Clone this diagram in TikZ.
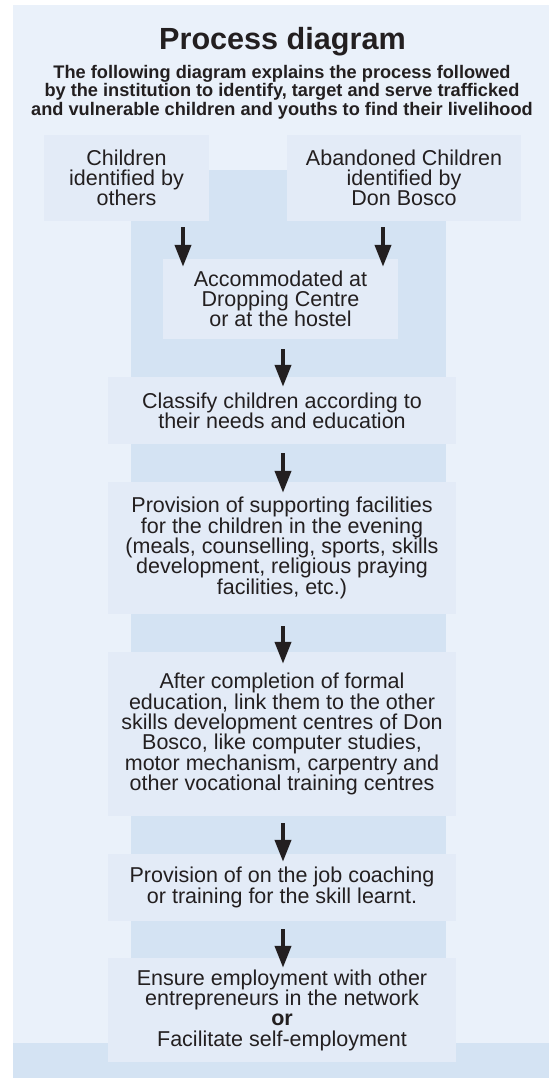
\documentclass[tikz,border=0pt]{standalone}
\usepackage{fontspec}
\setmainfont{Liberation Sans}
\usetikzlibrary{arrows.meta,calc}
\definecolor{bgblue}{HTML}{EAF1FA}
\definecolor{colblue}{HTML}{D4E3F3}
\definecolor{boxblue}{HTML}{E3EBF7}
\definecolor{ink}{HTML}{231F20}
\begin{document}
\begin{tikzpicture}[x=1pt,y=-1pt,
  stepbox/.style={fill=boxblue, inner sep=0pt, align=center, text=ink,
    font=\fontsize{21.5}{20.3}\selectfont},
  flowarrow/.style={draw=ink, line width=4pt, -{Triangle[width=16pt,length=22pt]}}]
\useasboundingbox (0,0) rectangle (549,1078);
\fill[white] (0,0) rectangle (549,1078);
\fill[bgblue] (12.5,5) rectangle (549,1078);
\fill[colblue] (131,170) rectangle (446,1078);
\fill[colblue] (12.5,1043) rectangle (549,1078);

\node[anchor=north, inner sep=0pt, text=ink, font=\bfseries\fontsize{30.6}{32}\selectfont] (title) at (282.5,27) {Process diagram};
\node[anchor=north, inner sep=0pt, text=ink, align=center, font=\bfseries\fontsize{18.2}{18.5}\selectfont] (sub) at (282,65)
  {The following diagram explains the process followed\\by the institution to identify, target and serve trafficked\\and vulnerable children and youths to find their livelihood};

\node[stepbox, minimum width=165pt, minimum height=86pt] (b1) at (126.5,178) {Children\\identified by\\others};
\node[stepbox, minimum width=234pt, minimum height=86pt] (b2) at (404,178) {Abandoned Children\\identified by\\Don Bosco};
\node[stepbox, minimum width=235pt, minimum height=80pt] (b3) at (280.5,299) {Accommodated at\\Dropping Centre\\or at the hostel};
\node[stepbox, minimum width=348pt, minimum height=67pt] (b4) at (282,410.5) {Classify children according to\\their needs and education};
\node[stepbox, minimum width=348pt, minimum height=132pt] (b5) at (282,548) {Provision of supporting facilities\\for the children in the evening\\(meals, counselling, sports, skills\\development, religious praying\\facilities, etc.)};
\node[stepbox, minimum width=348pt, minimum height=164pt] (b6) at (282,734) {After completion of formal\\education, link them to the other\\skills development centres of Don\\Bosco, like computer studies,\\motor mechanism, carpentry and\\other vocational training centres};
\node[stepbox, minimum width=348pt, minimum height=67pt] (b7) at (282,887.5) {Provision of on the job coaching\\or training for the skill learnt.};
\node[stepbox, minimum width=348pt, minimum height=104pt] (b8) at (282,1010) {Ensure employment with other\\entrepreneurs in the network\\\textbf{or}\\Facilitate self-employment};

\draw[flowarrow] ($(b1.south)+(56.5,6)$) -- ($(b3.north)+(-97.5,8)$);
\draw[flowarrow] ($(b2.south)+(-21,6)$) -- ($(b3.north)+(102.5,8)$);
\draw[flowarrow] ($(b3.south)+(2.5,10)$) -- ($(b4.north)+(1,10)$);
\draw[flowarrow] ($(b4.south)+(1,9)$) -- ($(b5.north)+(1,11)$);
\draw[flowarrow] ($(b5.south)+(1,12)$) -- ($(b6.north)+(1,12)$);
\draw[flowarrow] ($(b6.south)+(1,7)$) -- ($(b7.north)+(1,8)$);
\draw[flowarrow] ($(b7.south)+(1,8)$) -- ($(b8.north)+(1,10)$);
\end{tikzpicture}
\end{document}
